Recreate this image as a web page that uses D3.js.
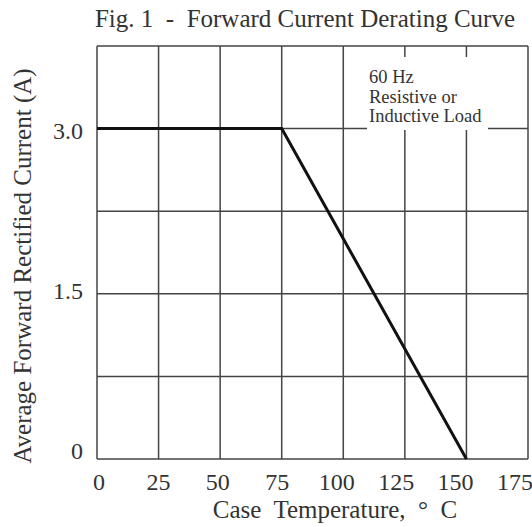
<!DOCTYPE html>
<meta charset="utf-8">
<style>
    body { margin: 0; background: #fff; }
    text { font-family: "Liberation Serif", "Times New Roman", serif; fill: #333; }
    .grid line { stroke: #444; stroke-width: 1.5; }
    .line { fill: none; stroke: #111; stroke-width: 3; }
</style>
<body>

<script src="https://d3js.org/d3.v7.min.js"></script>
<script>
    // data
    var temps = [0, 75, 150];
    var current = [3.0, 3.0, 0];
    var xTicks = [0, 25, 50, 75, 100, 125, 150, 175];
    var yTicks = [0, 1.5, 3.0];
    var yGrid = [0, 0.75, 1.5, 2.25, 3.0, 3.75];
    var note = ["60 Hz", "Resistive or", "Inductive Load"];

    var W = 532, H = 527;
    var pl = 97, pr = 528, pt = 46, pb = 459;

    var svg = d3.select("body").append("svg")
        .attr("width", W)
        .attr("height", H);

    var x = d3.scaleLinear().domain([0, 175]).range([pl, pr]);
    var y = d3.scaleLinear().domain([0, 3.75]).range([pb, pt]);
    // tick labels sit a bit off the grid in the original
    var xLab = d3.scaleLinear().domain([0, 175]).range([99, 515]);
    var yLab = d3.scaleLinear().domain([0, 3]).range([451, 131]);

    var grid = svg.append("g").attr("class", "grid");
    grid.selectAll(".v").data(xTicks).join("line")
        .attr("class", "v")
        .attr("x1", d => x(d)).attr("x2", d => x(d))
        .attr("y1", pt).attr("y2", pb);
    grid.selectAll(".h").data(yGrid).join("line")
        .attr("class", "h")
        .attr("x1", pl).attr("x2", pr)
        .attr("y1", d => y(d)).attr("y2", d => y(d));

    // white box behind the note, breaks the grid
    svg.append("rect")
        .attr("x", 367).attr("y", 57)
        .attr("width", 121).attr("height", 73)
        .attr("fill", "#fff");

    svg.append("g")
        .selectAll("text").data(note).join("text")
        .attr("x", 369)
        .attr("y", (d, i) => 83 + i * 19.5)
        .attr("font-size", 18.5)
        .text(d => d);

    var line = d3.line()
        .x((d, i) => x(temps[i]))
        .y(d => y(d));

    svg.append("path")
        .datum(current)
        .attr("class", "line")
        .attr("d", line);

    svg.append("g")
        .selectAll("text").data(xTicks).join("text")
        .attr("x", d => xLab(d))
        .attr("y", 490)
        .attr("text-anchor", "middle")
        .attr("font-size", 24)
        .text(d => d);

    svg.append("g")
        .selectAll("text").data(yTicks).join("text")
        .attr("x", 83)
        .attr("y", d => yLab(d))
        .attr("dy", "0.35em")
        .attr("text-anchor", "end")
        .attr("font-size", 24)
        .text(d => d === 0 ? "0" : d.toFixed(1));

    svg.append("text")
        .attr("x", 305)
        .attr("y", 27)
        .attr("text-anchor", "middle")
        .attr("font-size", 25)
        .style("white-space", "pre")
        .text("Fig. 1  -  Forward Current Derating Curve");

    svg.append("text")
        .attr("x", 335)
        .attr("y", 518)
        .attr("text-anchor", "middle")
        .attr("font-size", 25)
        .style("white-space", "pre")
        .text("Case  Temperature,  \u00b0  C");

    svg.append("text")
        .attr("transform", "translate(31,266) rotate(-90)")
        .attr("text-anchor", "middle")
        .attr("font-size", 25)
        .text("Average Forward Rectified Current (A)");
</script>

</body>
</html>
